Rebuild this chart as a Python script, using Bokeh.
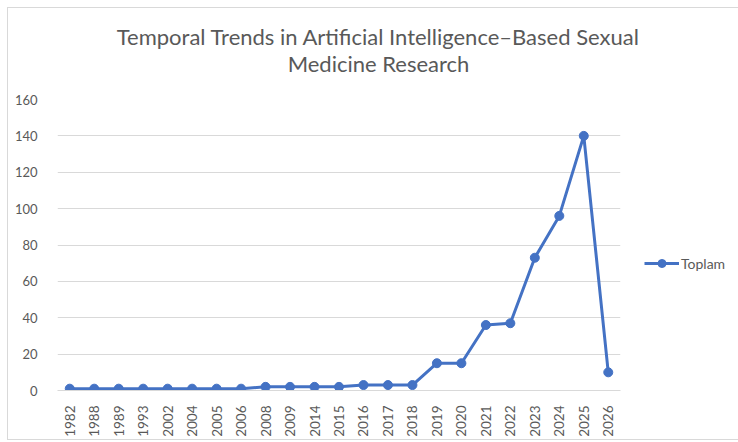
import math
from bokeh.plotting import figure
from bokeh.layouts import column, row
from bokeh.models import Label, Legend, LegendItem, ColumnDataSource
from bokeh.embed import file_html
from bokeh.resources import INLINE

years = ["1982", "1988", "1989", "1993", "2002", "2004", "2005", "2006", "2008", "2009",
         "2014", "2015", "2016", "2017", "2018", "2019", "2020", "2021", "2022", "2023",
         "2024", "2025", "2026"]
toplam = [1, 1, 1, 1, 1, 1, 1, 1, 2, 2, 2, 2, 3, 3, 3, 15, 15, 36, 37, 73, 96, 140, 10]
y_ticks = [0, 20, 40, 60, 80, 100, 120, 140, 160]
title_lines = ["Temporal Trends in Artificial Intelligence\u2013Based Sexual", "Medicine Research"]
series_name = "Toplam"

FONT = "Lato"
GRAY = "#595959"
BLUE = "#4472C4"
BORDER = "#d9d9d9"

TOTAL_W = 730
TOTAL_H = 431
TITLE_H = 72
MAIN_W = 632
MAIN_H = TOTAL_H - TITLE_H
LEG_W = TOTAL_W - MAIN_W


def bare(fig):
    fig.outline_line_color = None
    fig.background_fill_color = "white"
    fig.border_fill_color = "white"
    fig.xgrid.visible = False
    fig.ygrid.visible = False


# ---- title strip ----
pt = figure(width=TOTAL_W, height=TITLE_H, x_range=(0, TOTAL_W), y_range=(0, TITLE_H),
            x_axis_type=None, y_axis_type=None,
            output_backend="svg", toolbar_location=None, min_border=0)
bare(pt)
for txt, yc in ((title_lines[0], 28), (title_lines[1], 55)):
    pt.add_layout(Label(x=370, y=TITLE_H - yc, text=txt, text_align="center",
                        text_baseline="middle", text_color=GRAY, text_font=FONT,
                        text_font_size="22px"))

# ---- main chart ----
src = ColumnDataSource(dict(x=years, y=toplam))
p = figure(width=MAIN_W, height=MAIN_H, x_range=years, y_range=(0, 160),
           output_backend="svg", toolbar_location=None,
           min_border_left=49, min_border_right=20, min_border_top=19,
           min_border_bottom=47)
p.outline_line_color = None
p.background_fill_color = "white"
p.border_fill_color = "white"

line_kw = dict(line_color=BLUE, line_width=3)
mark_kw = dict(size=9, fill_color=BLUE, line_color=BLUE)
p.line("x", "y", source=src, **line_kw)
p.scatter("x", "y", source=src, **mark_kw)

p.xgrid.grid_line_color = None
p.ygrid.grid_line_color = BORDER
p.ygrid.grid_line_width = 1
p.yaxis.ticker = y_ticks
p.yaxis.axis_line_color = None
p.yaxis.major_tick_line_color = None
p.yaxis.minor_tick_line_color = None
p.yaxis.major_label_text_color = GRAY
p.yaxis.major_label_text_font = FONT
p.yaxis.major_label_text_font_size = "13px"
p.yaxis.major_label_standoff = 14

p.xaxis.axis_line_color = BORDER
p.xaxis.major_tick_line_color = None
p.xaxis.minor_tick_line_color = None
p.xaxis.major_label_orientation = math.pi / 2
p.xaxis.major_label_text_color = GRAY
p.xaxis.major_label_text_font = FONT
p.xaxis.major_label_text_font_size = "13.5px"
p.xaxis.major_label_standoff = 9

# ---- legend strip (hidden copies of the series supply the legend glyph) ----
pl = figure(width=LEG_W, height=MAIN_H, x_range=years, y_range=(0, 160),
            x_axis_type=None, y_axis_type=None,
            output_backend="svg", toolbar_location=None, min_border=0)
bare(pl)
lr = pl.line("x", "y", source=src, visible=False, **line_kw)
ls = pl.scatter("x", "y", source=src, visible=False, **mark_kw)
legend = Legend(items=[LegendItem(label=series_name, renderers=[lr, ls])],
                location=(4, 117), padding=0, margin=0, border_line_color=None,
                background_fill_alpha=0, glyph_width=35, glyph_height=20,
                label_standoff=2, label_text_font=FONT, label_text_font_size="14px",
                label_text_color=GRAY)
pl.add_layout(legend, "center")

layout = column(pt, row(p, pl), margin=(7, 0, 0, 7),
                styles={"border-top": f"1px solid {BORDER}",
                        "border-left": f"1px solid {BORDER}",
                        "border-bottom": f"1px solid {BORDER}"})
open("out.html", "w").write(file_html(layout, INLINE))
